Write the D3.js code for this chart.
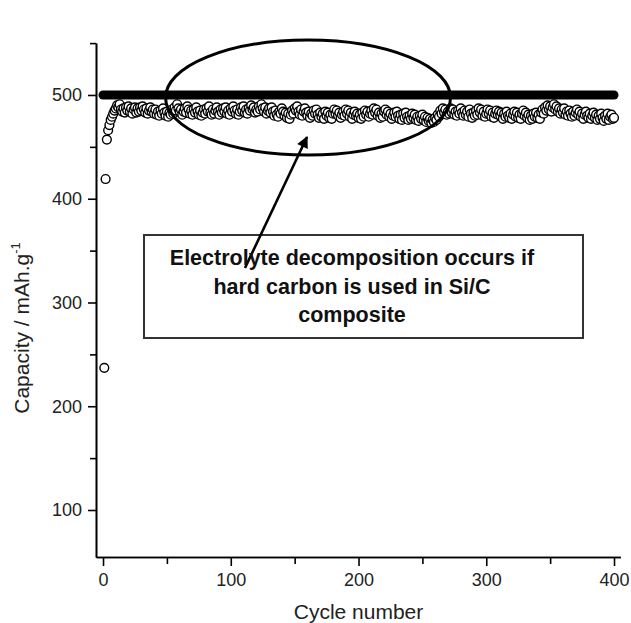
<!DOCTYPE html>
<html><head><meta charset="utf-8">
<script src="https://cdn.jsdelivr.net/npm/d3@7"></script>
<style>body{margin:0;background:#fff}svg{display:block}</style>
</head><body>
<svg id="c" width="631" height="623"></svg>
<script>
// discharge capacity per cycle (cycles 1..400)
const capacity = [
237,419,457,466,471,476,479,482,485,487,
490,488,491,486,484,487,483,488,485,489,
484,487,482,486,488,483,487,484,488,485,
489,486,483,487,482,485,488,484,486,482,
486,481,484,480,485,482,487,483,480,484,
479,483,481,486,482,488,485,491,487,484,
486,481,484,487,483,489,486,482,485,481,
486,483,488,484,481,485,480,483,486,482,
487,484,489,483,481,486,482,485,488,484,
481,486,483,487,484,488,482,485,481,487,
484,489,485,482,486,481,484,488,485,489,
483,486,482,487,485,490,486,488,483,486,
484,489,486,491,487,484,488,482,485,487,
483,488,484,480,485,481,479,484,482,487,
484,480,483,478,482,477,481,485,482,487,
485,489,484,481,486,480,484,487,483,480,
484,478,482,480,485,482,486,481,478,483,
479,482,477,484,480,483,478,481,477,482,
486,482,485,480,483,478,481,484,480,486,
482,485,479,483,477,481,484,480,482,478,
481,477,483,479,485,481,484,479,482,485,
481,487,483,486,480,483,478,482,479,484,
486,481,484,479,482,477,480,483,479,484,
480,477,481,476,482,478,483,479,476,480,
477,482,478,481,476,479,475,480,477,481,
476,479,474,478,475,477,473,476,474,478,
476,481,479,485,482,487,483,486,481,484,
482,487,483,486,481,484,480,485,482,487,
483,480,485,481,484,479,486,482,478,483,
480,485,481,487,483,486,480,484,479,482,
486,482,485,479,483,478,482,485,481,484,
480,483,477,482,479,484,480,478,482,477,
481,484,479,483,478,481,477,482,485,480,
483,478,481,476,480,477,482,479,483,478,
481,477,483,486,482,488,485,490,486,489,
484,488,491,486,489,484,487,482,486,483,
487,481,484,480,485,482,479,484,480,483,
486,481,484,479,482,477,481,484,480,478,
482,477,480,483,478,481,476,480,477,482,
478,475,480,477,482,476,479,481,477,478
];
const cycles = capacity.map((d,i)=>i+1);
// limited (charge) capacity line
const limitCycles = [0, 400];
const limitValues = [500, 500];
const xTicks = [0,100,200,300,400];
const xMinor = [50,150,250,350];
const yTicks = [100,200,300,400,500];
const yMinor = [150,250,350,450,550];
const annotationLines = ["Electrolyte decomposition occurs if","hard carbon is used in Si/C","composite"];

const svg = d3.select("#c");
const x = d3.scaleLinear().domain([-5.5,405]).range([96,620.4]);
const y = d3.scaleLinear().domain([54.7,550]).range([557,43.1]);
const font = "'Liberation Sans', Arial, Helvetica, sans-serif";

// data circles
svg.append("g").selectAll("circle").data(capacity).join("circle")
  .attr("cx",(d,i)=>x(cycles[i])).attr("cy",d=>y(d)).attr("r",4.4)
  .attr("fill","#fff").attr("stroke","#000").attr("stroke-width",1.4);

// limit line
const line = d3.line().x((d,i)=>x(limitCycles[i])).y(d=>y(d));
svg.append("path").datum(limitValues).attr("d",line)
  .attr("stroke","#000").attr("stroke-width",9).attr("stroke-linecap","round").attr("fill","none");

// axes
svg.append("g").attr("transform",`translate(0,557)`)
  .call(d3.axisBottom(x).tickValues(xTicks).tickSize(9).tickPadding(7).tickSizeOuter(0));
svg.append("g").attr("transform",`translate(0,557)`)
  .call(d3.axisBottom(x).tickValues(xMinor).tickSize(7).tickFormat("").tickSizeOuter(0));
svg.append("g").attr("transform",`translate(96,0)`)
  .call(d3.axisLeft(y).tickValues(yTicks).tickSize(8).tickPadding(6).tickSizeOuter(0));
svg.append("g").attr("transform",`translate(96,0)`)
  .call(d3.axisLeft(y).tickValues(yMinor).tickSize(6).tickFormat("").tickSizeOuter(0));
svg.selectAll(".domain").attr("stroke","#000").attr("stroke-width",1.6);
svg.selectAll(".tick line").attr("stroke","#000").attr("stroke-width",1.6);
svg.selectAll(".tick text").attr("font-family",font).attr("font-size",18).attr("fill","#222");

// axis titles
svg.append("text").attr("x",x(200)).attr("y",619).attr("text-anchor","middle")
  .attr("font-family",font).attr("font-size",21).attr("fill","#222").text("Cycle number");
const yt = svg.append("text").attr("transform",`translate(29,328) rotate(-90)`)
  .attr("text-anchor","middle").attr("font-family",font).attr("font-size",21).attr("fill","#222");
yt.append("tspan").text("Capacity / mAh.g");
yt.append("tspan").attr("dy",-9).attr("font-size",13).text("-1");

// ellipse annotation
svg.append("ellipse").attr("cx",x(160.5)).attr("cy",y(497.5)).attr("rx",142.5).attr("ry",57.5)
  .attr("fill","none").attr("stroke","#000").attr("stroke-width",3);

// arrow head
const defs = svg.append("defs");
defs.append("marker").attr("id","ah").attr("viewBox","0 0 10 10").attr("refX",9).attr("refY",5)
  .attr("markerWidth",5).attr("markerHeight",4.5).attr("markerUnits","strokeWidth").attr("orient","auto")
  .append("path").attr("d","M0,0L10,5L0,10z").attr("fill","#000");

// box
svg.append("rect").attr("x",144).attr("y",235).attr("width",439).attr("height",103)
  .attr("fill","#fff").attr("stroke","#333").attr("stroke-width",2);
svg.append("line").attr("x1",245).attr("y1",268).attr("x2",307).attr("y2",137)
  .attr("stroke","#000").attr("stroke-width",2.6).attr("marker-end","url(#ah)");
svg.append("g").selectAll("text").data(annotationLines).join("text")
  .attr("x",352).attr("y",(d,i)=>265+i*28.5).attr("text-anchor","middle")
  .attr("font-family",font).attr("font-weight","bold").attr("font-size",21.5).attr("fill","#111")
  .text(d=>d);
</script>
</body></html>
